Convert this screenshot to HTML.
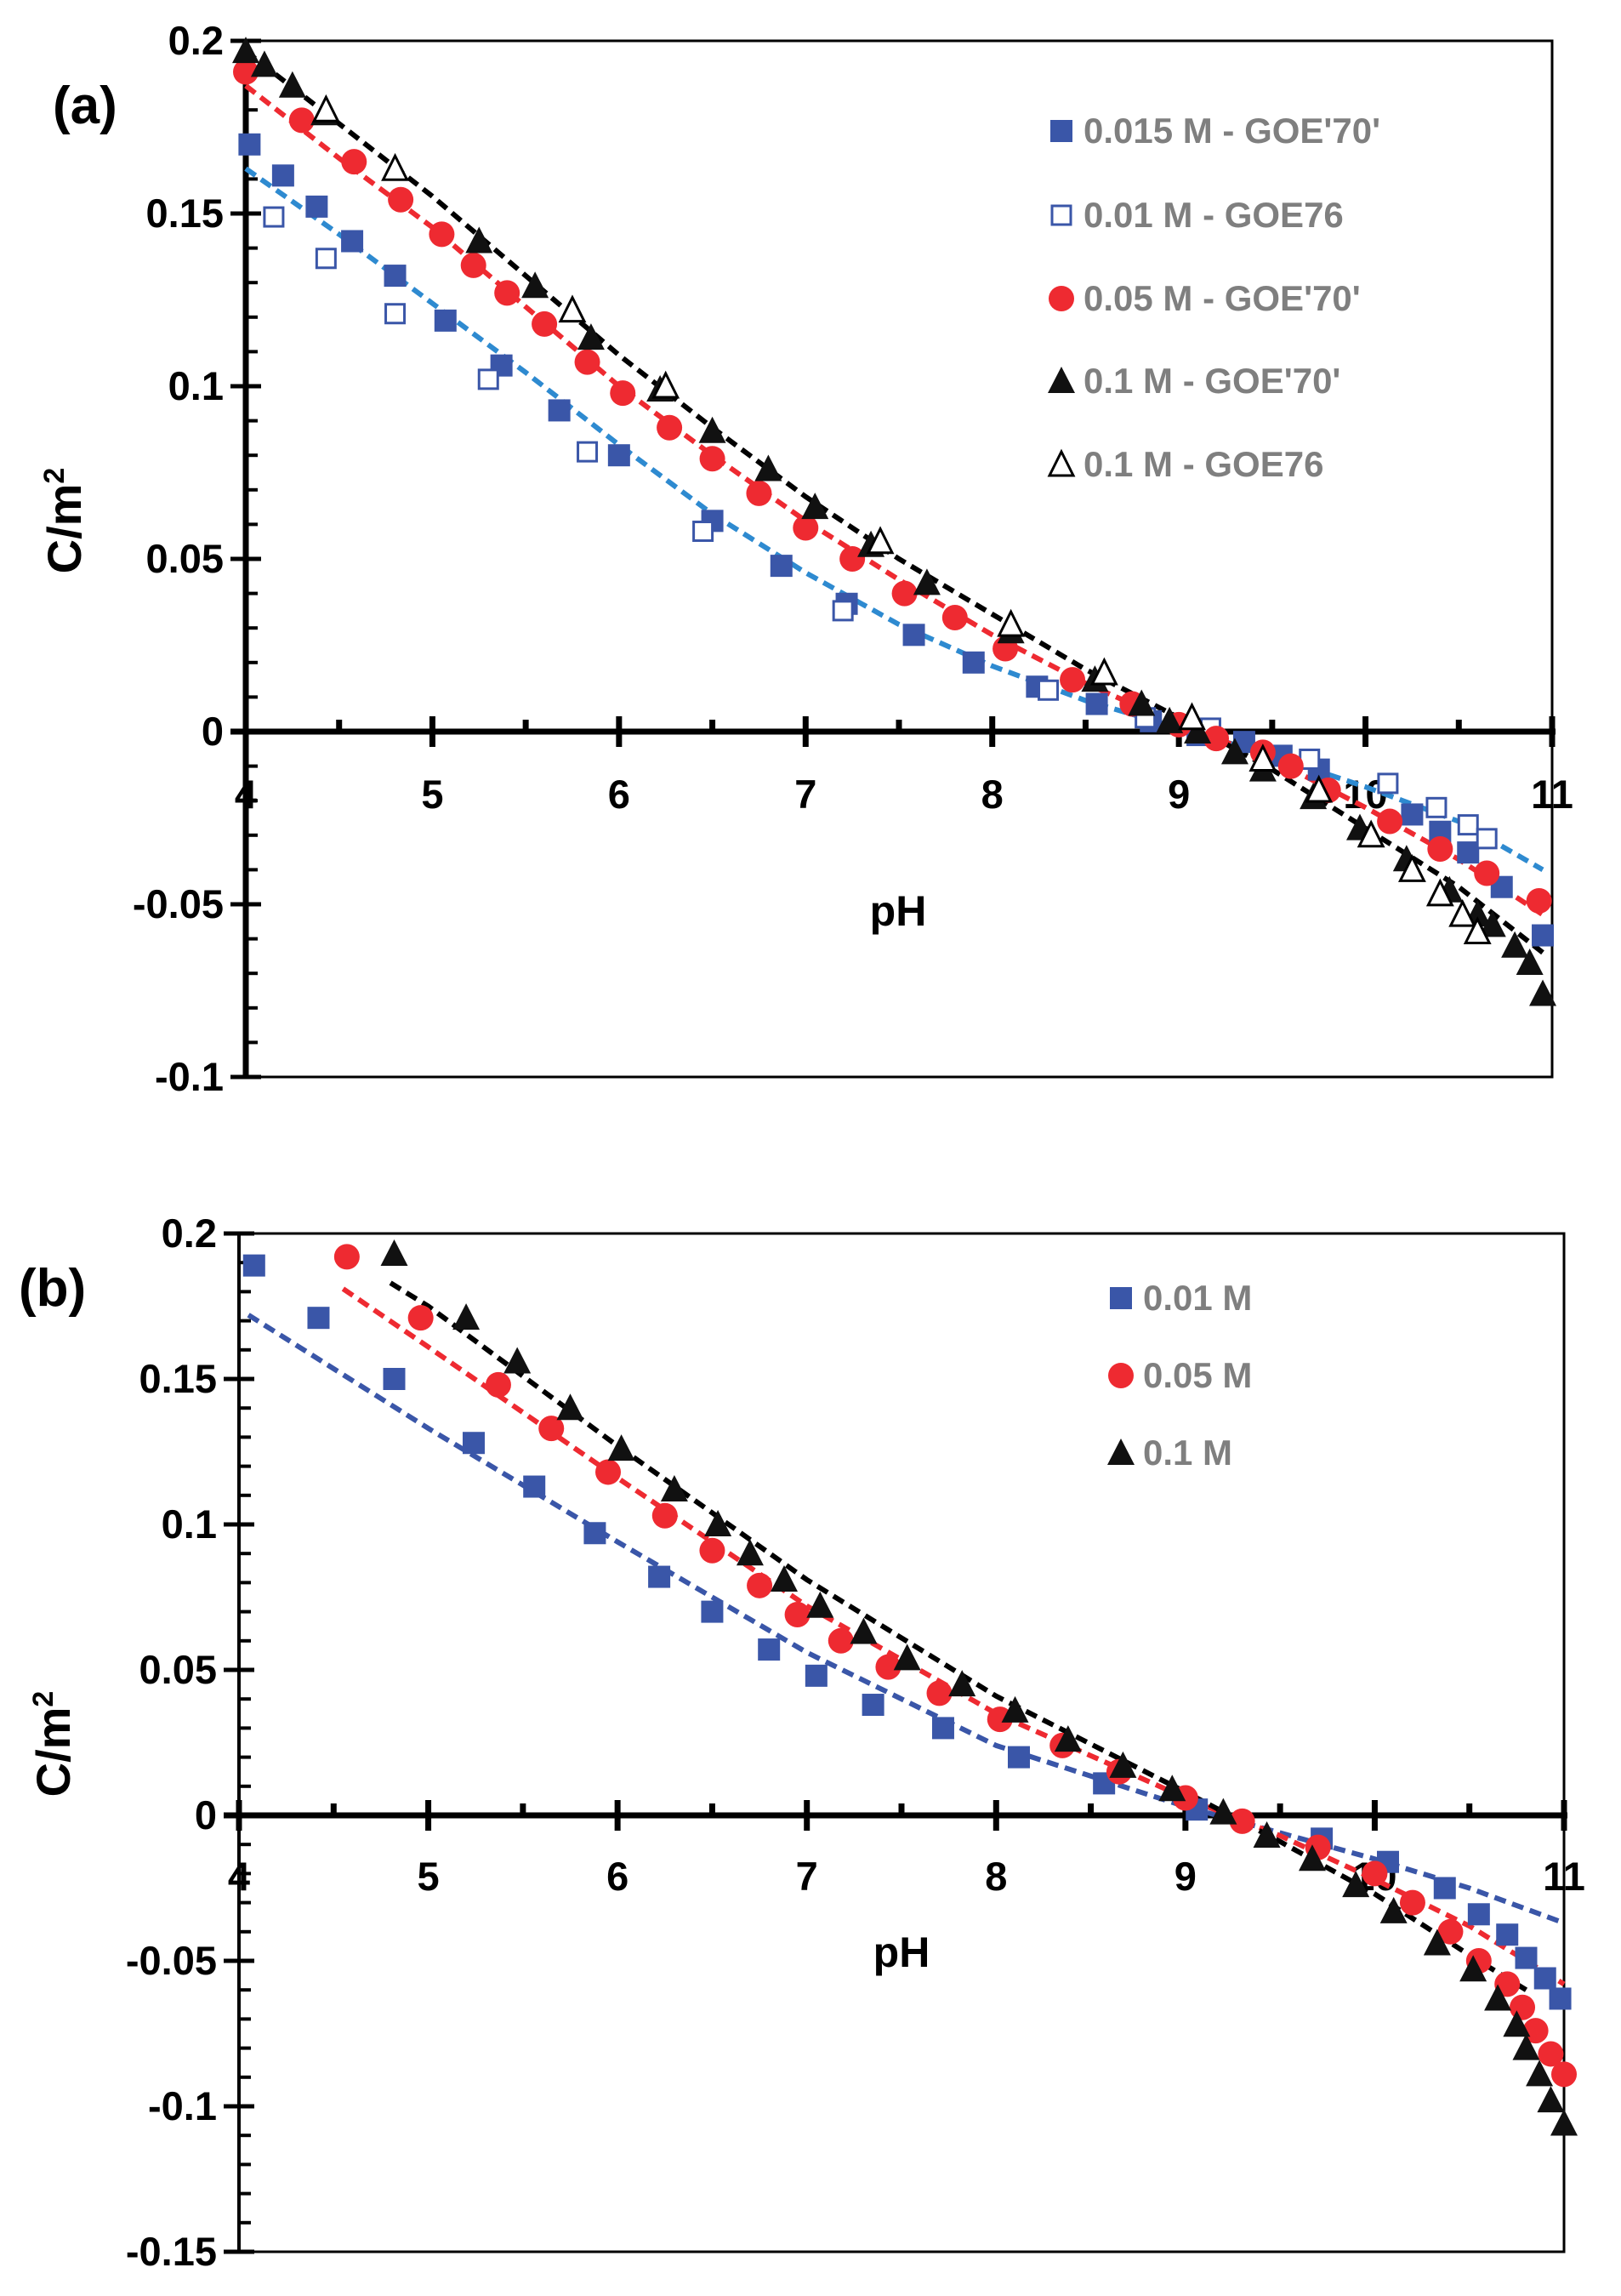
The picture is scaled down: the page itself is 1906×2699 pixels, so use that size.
<!DOCTYPE html>
<html><head><meta charset="utf-8"><style>
html,body{margin:0;padding:0;background:#fff}
svg{display:block}
text{font-family:"Liberation Sans",sans-serif;font-weight:bold}
</style></head><body>
<svg id="fig" width="1906" height="2699" viewBox="0 0 1906 2699" xmlns="http://www.w3.org/2000/svg"></svg>
<script>
// ---------- Panel (a) data ----------
const aSqX=[4.02,4.2,4.38,4.57,4.8,5.07,5.37,5.68,6.0,6.5,6.87,7.22,7.58,7.9,8.24,8.56,8.85,9.1,9.35,9.55,9.75,10.25,10.4,10.55,10.73,10.95];
const aSqY=[0.170,0.161,0.152,0.142,0.132,0.119,0.106,0.093,0.080,0.061,0.048,0.037,0.028,0.020,0.013,0.008,0.003,-0.001,-0.003,-0.007,-0.011,-0.024,-0.029,-0.035,-0.045,-0.059];
const aOsqX=[4.15,4.43,4.8,5.3,5.83,6.45,7.2,8.3,8.82,9.17,9.7,10.12,10.38,10.55,10.65];
const aOsqY=[0.149,0.137,0.121,0.102,0.081,0.058,0.035,0.012,0.004,0.001,-0.008,-0.015,-0.022,-0.027,-0.031];
const aCirX=[4.0,4.3,4.58,4.83,5.05,5.22,5.4,5.6,5.83,6.02,6.27,6.5,6.75,7.0,7.25,7.53,7.8,8.07,8.43,8.75,9.0,9.2,9.45,9.6,9.8,10.13,10.4,10.65,10.93];
const aCirY=[0.191,0.177,0.165,0.154,0.144,0.135,0.127,0.118,0.107,0.098,0.088,0.079,0.069,0.059,0.050,0.040,0.033,0.024,0.015,0.008,0.002,-0.002,-0.006,-0.010,-0.017,-0.026,-0.034,-0.041,-0.049];
const aTriX=[4.0,4.1,4.25,4.42,4.8,5.25,5.55,5.85,6.22,6.5,6.8,7.05,7.35,7.65,8.1,8.55,8.8,8.95,9.1,9.3,9.45,9.72,9.97,10.22,10.45,10.6,10.68,10.8,10.88,10.95];
const aTriY=[0.197,0.193,0.187,0.179,0.163,0.142,0.129,0.114,0.099,0.087,0.076,0.065,0.054,0.043,0.029,0.015,0.008,0.003,0.0,-0.006,-0.011,-0.019,-0.028,-0.037,-0.046,-0.053,-0.056,-0.062,-0.067,-0.076];
const aOtriX=[4.43,4.8,5.75,6.25,7.4,8.1,8.6,9.07,9.45,9.75,10.03,10.25,10.4,10.52,10.6];
const aOtriY=[0.180,0.163,0.122,0.100,0.055,0.031,0.017,0.004,-0.008,-0.017,-0.030,-0.040,-0.047,-0.053,-0.058];
const aFitX=[4.0,4.5,5,5.5,6,6.5,7,7.5,8,8.5,9,9.5,10,10.5,10.95];
const aFitBlue=[0.163,0.144,0.124,0.104,0.083,0.063,0.046,0.031,0.019,0.009,0.001,-0.007,-0.016,-0.026,-0.040];
const aFitRed=[0.187,0.166,0.146,0.123,0.100,0.080,0.061,0.044,0.028,0.014,0.002,-0.008,-0.022,-0.037,-0.053];
const aFitBlack=[0.197,0.176,0.155,0.132,0.109,0.088,0.068,0.050,0.034,0.018,0.004,-0.011,-0.028,-0.045,-0.064];
// ---------- Panel (b) data ----------
const bSqX=[4.08,4.42,4.82,5.24,5.56,5.88,6.22,6.5,6.8,7.05,7.35,7.72,8.12,8.57,9.06,9.72,10.07,10.37,10.55,10.7,10.8,10.9,10.98];
const bSqY=[0.189,0.171,0.150,0.128,0.113,0.097,0.082,0.070,0.057,0.048,0.038,0.030,0.020,0.011,0.002,-0.008,-0.016,-0.025,-0.034,-0.041,-0.049,-0.056,-0.063];
const bCirX=[4.57,4.96,5.37,5.65,5.95,6.25,6.5,6.75,6.95,7.18,7.43,7.7,8.02,8.35,8.65,9.0,9.3,9.7,10.0,10.2,10.4,10.55,10.7,10.78,10.85,10.93,11.0];
const bCirY=[0.192,0.171,0.148,0.133,0.118,0.103,0.091,0.079,0.069,0.060,0.051,0.042,0.033,0.024,0.015,0.006,-0.002,-0.011,-0.020,-0.030,-0.040,-0.050,-0.058,-0.066,-0.074,-0.082,-0.089];
const bTriX=[4.82,5.2,5.47,5.75,6.02,6.3,6.53,6.7,6.88,7.07,7.3,7.53,7.82,8.1,8.38,8.67,8.93,9.2,9.43,9.67,9.9,10.1,10.33,10.52,10.65,10.75,10.8,10.87,10.93,11.0];
const bTriY=[0.193,0.171,0.156,0.140,0.126,0.112,0.100,0.090,0.081,0.072,0.063,0.054,0.045,0.036,0.026,0.017,0.009,0.001,-0.007,-0.015,-0.024,-0.033,-0.044,-0.053,-0.063,-0.072,-0.080,-0.089,-0.098,-0.106];
const bFitBlueX=[4.05,5,6,7,8,9,9.5,10,10.5,11];
const bFitBlue=[0.172,0.133,0.094,0.056,0.024,0.003,-0.006,-0.015,-0.025,-0.037];
const bFitRedX=[4.55,5,6,7,8,9,9.5,10,10.5,11];
const bFitRed=[0.181,0.161,0.116,0.072,0.035,0.006,-0.007,-0.022,-0.038,-0.058];
const bFitBlackX=[4.8,5,6,7,8,9,9.5,10,10.5,10.8];
const bFitBlack=[0.183,0.175,0.127,0.081,0.041,0.008,-0.009,-0.027,-0.048,-0.060];
const xTicks=[4,5,6,7,8,9,10,11];
const aYTicks=[0.2,0.15,0.1,0.05,0,-0.05,-0.1];
const bYTicks=[0.2,0.15,0.1,0.05,0,-0.05,-0.1,-0.15];

const NS="http://www.w3.org/2000/svg";
const svg=document.getElementById('fig');
function mk(tag,attrs,parent){const e=document.createElementNS(NS,tag);for(const k in attrs)e.setAttribute(k,attrs[k]);(parent||svg).appendChild(e);return e;}

function panel(P){
  const g=mk('g',{});
  
  
  const sx=v=>P.x0+(v-4)*(P.x1-P.x0)/7;
  const sy=v=>P.yTop+(P.yMax-v)*(P.yBot-P.yTop)/(P.yMax-P.yMin);
  const fr=mk('rect',{x:sx(4),y:P.yTop,width:P.x1-P.x0,height:P.yBot-P.yTop,fill:'none',stroke:'#000','stroke-width':3},g);
  
  
  const ya=mk('line',{x1:sx(4),x2:sx(4),y1:P.yTop,y2:P.yBot,stroke:'#000','stroke-width':P.yw},g);
  
  
  for(let v=P.yMin;v<=P.yMax+1e-9;v+=0.01){
    mk('line',{x1:sx(4),x2:sx(4)+14,y1:sy(v),y2:sy(v),stroke:'#000','stroke-width':4},g);
  }
  P.yTicks.forEach(v=>{
    mk('line',{x1:sx(4)-18,x2:sx(4)+18,y1:sy(v),y2:sy(v),stroke:'#000','stroke-width':5},g);
    const t=mk('text',{x:sx(4)-26,y:sy(v)+16,'text-anchor':'end','font-size':47,fill:'#000'},g);
    t.textContent=String(v);
    
    
  });
  const xa=mk('line',{x1:sx(4)-18,x2:sx(11)+4,y1:sy(0),y2:sy(0),stroke:'#000','stroke-width':7},g);
  
  
  for(let v=4.5;v<11;v+=1){
    mk('line',{x1:sx(v),x2:sx(v),y1:sy(0)-14,y2:sy(0),stroke:'#000','stroke-width':7},g);
  }
  xTicks.forEach(v=>{
    mk('line',{x1:sx(v),x2:sx(v),y1:sy(0)-18,y2:sy(0)+18,stroke:'#000','stroke-width':7},g);
    const t=mk('text',{x:sx(v),y:sy(0)+P.xlOff,'text-anchor':'middle','font-size':47,fill:'#000'},g);
    t.textContent=String(v);
    
    
  });
  P.fits.forEach(f=>{
    const d=f.x.map((v,i)=>(i?'L':'M')+sx(v).toFixed(1)+' '+sy(f.y[i]).toFixed(1)).join(' ');
    const p=mk('path',{d:d,fill:'none',stroke:f.c,'stroke-width':6,'stroke-dasharray':'14 8'},g);
    
    
  });
  P.series.forEach(s=>{
    const sg=mk('g',{},g);
    
    
    s.x.forEach((v,i)=>marker(sg,s.t,sx(v),sy(s.y[i]),s.c));
  });
  const yl=mk('text',{x:0,y:0,transform:`translate(${P.ylx},${P.yly}) rotate(-90)`,'text-anchor':'middle','font-size':56,fill:'#000'},g);
  yl.innerHTML='C/m<tspan font-size="34" dy="-20">2</tspan>';
  
  
  const xl=mk('text',{x:P.xlx,y:P.xly,'text-anchor':'middle','font-size':50,fill:'#000'},g);
  xl.textContent='pH';
  
  
  const pl=mk('text',{x:P.plx,y:P.ply,'font-size':62,'font-weight':'normal',fill:'#000'},g);
  pl.textContent=P.label;
  
  
  P.legend.forEach((L,i)=>{
    const lg=mk('g',{},g);
    
    
    const y=P.legY[i];
    marker(lg,L.t,P.legX,y-14,L.c);
    const t=mk('text',{x:P.legX+26,y:y,'font-size':42,fill:'#7f7f7f'},lg);
    t.textContent=L.s;
  });
}
function marker(g,t,x,y,c){
  if(t==='sq')mk('rect',{x:x-13,y:y-13,width:26,height:26,fill:c},g);
  else if(t==='osq')mk('rect',{x:x-11,y:y-11,width:22,height:22,fill:'#fff',stroke:c,'stroke-width':3},g);
  else if(t==='cir')mk('circle',{cx:x,cy:y,r:15,fill:c},g);
  else if(t==='tri')mk('polygon',{points:`${x},${y-17} ${x+16},${y+14} ${x-16},${y+14}`,fill:'#111'},g);
  else if(t==='otri')mk('polygon',{points:`${x},${y-15} ${x+14},${y+13} ${x-14},${y+13}`,fill:'#fff',stroke:'#000','stroke-width':3},g);
}
const BL='#3a56a8',RD='#ee2a31';
panel({name:'panel-a',label:'(a)',x0:289,x1:1825,yTop:48,yBot:1266,yMax:0.2,yMin:-0.1,yw:7,yTicks:aYTicks,xlOff:90,
  ylx:95,yly:612,xlx:1056,xly:1088,plx:62,ply:145,
  fits:[{x:aFitX,y:aFitBlue,c:'#2e8ad0',n:'fit-line-0.015M'},{x:aFitX,y:aFitRed,c:RD,n:'fit-line-0.05M'},{x:aFitX,y:aFitBlack,c:'#000',n:'fit-line-0.1M'}],
  series:[{x:aSqX,y:aSqY,t:'sq',c:BL,n:'series-0.015M-GOE70'},{x:aOsqX,y:aOsqY,t:'osq',c:BL,n:'series-0.01M-GOE76'},
    {x:aCirX,y:aCirY,t:'cir',c:RD,n:'series-0.05M-GOE70'},{x:aTriX,y:aTriY,t:'tri',c:'#000',n:'series-0.1M-GOE70'},{x:aOtriX,y:aOtriY,t:'otri',c:'#000',n:'series-0.1M-GOE76'}],
  legX:1248,legY:[168,267,365,462,560],
  legend:[{t:'sq',c:BL,s:"0.015 M - GOE'70'"},{t:'osq',c:BL,s:'0.01 M - GOE76'},{t:'cir',c:RD,s:"0.05 M - GOE'70'"},{t:'tri',c:'#000',s:"0.1 M - GOE'70'"},{t:'otri',c:'#000',s:'0.1 M - GOE76'}]
});
panel({name:'panel-b',label:'(b)',x0:281,x1:1839,yTop:1450,yBot:2647,yMax:0.2,yMin:-0.15,yw:4,yTicks:bYTicks,xlOff:88,
  ylx:82,yly:2050,xlx:1060,xly:2312,plx:22,ply:1535,
  fits:[{x:bFitBlueX,y:bFitBlue,c:'#3a56a8',n:'fit-line-0.01M'},{x:bFitRedX,y:bFitRed,c:RD,n:'fit-line-0.05M'},{x:bFitBlackX,y:bFitBlack,c:'#000',n:'fit-line-0.1M'}],
  series:[{x:bSqX,y:bSqY,t:'sq',c:BL,n:'series-0.01M'},{x:bCirX,y:bCirY,t:'cir',c:RD,n:'series-0.05M'},{x:bTriX,y:bTriY,t:'tri',c:'#000',n:'series-0.1M'}],
  legX:1318,legY:[1540,1631,1722],
  legend:[{t:'sq',c:BL,s:'0.01 M'},{t:'cir',c:RD,s:'0.05 M'},{t:'tri',c:'#000',s:'0.1 M'}]
});
</script>
</body></html>
